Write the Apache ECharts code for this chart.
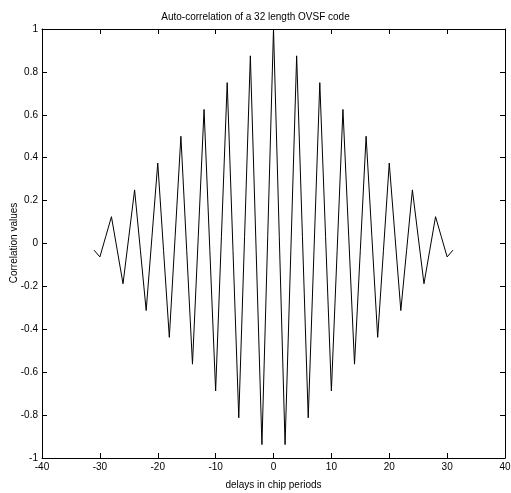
<!DOCTYPE html>
<html>
<head>
<meta charset="utf-8">
<script src="https://cdn.jsdelivr.net/npm/echarts@6/dist/echarts.min.js"></script>
<style>
html, body { margin: 0; padding: 0; background: #fff; }
#chartsBox1 { width: 511px; height: 493px; }
</style>
</head>
<body>
<div id="chartsBox1"></div>
<script>
// delays in chip periods
var delays = [-31,-30,-29,-28,-27,-26,-25,-24,-23,-22,-21,-20,-19,-18,-17,-16,-15,-14,-13,-12,-11,-10,-9,-8,-7,-6,-5,-4,-3,-2,-1,
    0,1,2,3,4,5,6,7,8,9,10,11,12,13,14,15,16,17,18,19,20,21,22,23,24,25,26,27,28,29,30,31];
// correlation values
var corr = [-0.03125,-0.0625,0.03125,0.125,-0.03125,-0.1875,0.03125,0.25,-0.03125,-0.3125,0.03125,0.375,-0.03125,-0.4375,0.03125,0.5,
    -0.03125,-0.5625,0.03125,0.625,-0.03125,-0.6875,0.03125,0.75,-0.03125,-0.8125,0.03125,0.875,-0.03125,-0.9375,0.03125,
    1,
    0.03125,-0.9375,-0.03125,0.875,0.03125,-0.8125,-0.03125,0.75,0.03125,-0.6875,-0.03125,0.625,0.03125,-0.5625,-0.03125,0.5,
    0.03125,-0.4375,-0.03125,0.375,0.03125,-0.3125,-0.03125,0.25,0.03125,-0.1875,-0.03125,0.125,0.03125,-0.0625,-0.03125];

var font = 'Liberation Sans, Arial, sans-serif';
var pts = delays.map(function (d, i) { return [d, corr[i]]; });

var axisCommon = {
    axisLine: { show: true, onZero: false, lineStyle: { color: '#000', width: 1 } },
    axisTick: { show: true, inside: true, length: 5, lineStyle: { color: '#000' } },
    splitLine: { show: false }
};

var option1 = {
    animation: false,
    backgroundColor: '#fff',
    title: {
        text: 'Auto-correlation of a 32 length OVSF code',
        left: 'center',
        top: 7,
        textStyle: { fontFamily: font, fontSize: 10, fontWeight: 'normal', color: '#000' }
    },
    grid: { left: 42, right: 6, top: 29, bottom: 35, outerBoundsMode: 'none', containLabel: false },
    // y axis title, placed by hand like matlab's ylabel
    graphic: [
        {
            type: 'text',
            x: 14,
            y: 243,
            rotation: Math.PI / 2,
            style: {
                text: 'Correlation values',
                fontFamily: font,
                fontSize: 10,
                fill: '#000',
                align: 'center',
                verticalAlign: 'middle'
            }
        }
    ],
    xAxis: [
        Object.assign({
            type: 'value', min: -40, max: 40, interval: 10, position: 'bottom',
            name: 'delays in chip periods', nameLocation: 'middle', nameGap: 22,
            nameTextStyle: { fontFamily: font, fontSize: 10, color: '#000' },
            axisLabel: { fontFamily: font, fontSize: 10, color: '#000', margin: 4 }
        }, axisCommon),
        Object.assign({
            type: 'value', min: -40, max: 40, interval: 10, position: 'top',
            axisLabel: { show: false }
        }, axisCommon)
    ],
    yAxis: [
        Object.assign({
            type: 'value', min: -1, max: 1, interval: 0.2, position: 'left',
            axisLabel: {
                fontFamily: font, fontSize: 10, color: '#000', margin: 4,
                formatter: function (v) { return String(Math.round(v * 10) / 10); }
            }
        }, axisCommon),
        Object.assign({
            type: 'value', min: -1, max: 1, interval: 0.2, position: 'right',
            axisLabel: { show: false }
        }, axisCommon)
    ],
    series: [
        {
            type: 'line',
            data: pts,
            symbol: 'none',
            lineStyle: { color: '#000', width: 1 }
        }
    ]
};

var chartsBox1 = echarts.init(document.getElementById('chartsBox1'));
chartsBox1.setOption(option1);
</script>
</body>
</html>
